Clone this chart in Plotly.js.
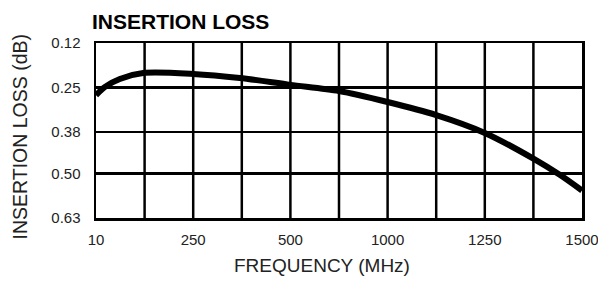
<!DOCTYPE html>
<html>
<head>
<meta charset="utf-8">
<script src="https://cdn.plot.ly/plotly-3.0.1.min.js"></script>
<style>html,body{margin:0;padding:0;background:#fff;}#chart{width:598px;height:281px;}</style>
</head>
<body>
<div id="chart"></div>
<script>
// x positions on the (evenly spaced) grid, 0..10
var gridPos = [0, 0.185, 0.49, 1.0, 2.0, 2.96, 4.0, 5.0, 6.0, 7.0, 8.0, 9.0, 9.55, 10];
// insertion loss (dB)
var lossDb = [0.272, 0.248, 0.225, 0.207, 0.210, 0.222, 0.242, 0.260, 0.292, 0.330, 0.382, 0.457, 0.505, 0.550];
var xTickPos = [0, 2, 4, 6, 8, 10];
var xTickLabels = ['10', '250', '500', '1000', '1250', '1500'];
var yTickVals = [0.12, 0.25, 0.38, 0.50, 0.63];
var yTickLabels = ['0.12', '0.25', '0.38', '0.50', '0.63'];
var vGridPos = [1, 2, 3, 4, 5, 6, 7, 8, 9];

var shapes = vGridPos.map(function (p) {
  return {type: 'line', xref: 'x', yref: 'paper', x0: p, x1: p, y0: 0, y1: 1,
          line: {color: '#000', width: 2.5}, layer: 'below'};
});

var trace = {
  x: gridPos, y: lossDb, type: 'scatter', mode: 'lines',
  line: {color: '#000', width: 6, shape: 'spline', smoothing: 0.8},
  hoverinfo: 'skip', cliponaxis: true
};

var fam = 'Liberation Sans, Arial, sans-serif';

var layout = {
  width: 598, height: 281,
  margin: {l: 96, r: 16, t: 43, b: 63},
  paper_bgcolor: '#fff', plot_bgcolor: '#fff',
  showlegend: false,
  shapes: shapes,
  title: {text: '<b>INSERTION LOSS</b>', x: 92/598, xref: 'container', xanchor: 'left',
          y: 1 - 22/281, yref: 'container', yanchor: 'middle',
          font: {family: fam, size: 21, color: '#000'}},
  annotations: [
    {text: 'FREQUENCY (MHz)', xref: 'paper', yref: 'paper',
     x: (322 - 96) / 486, y: -(265 - 218) / 175, xanchor: 'center', yanchor: 'middle',
     showarrow: false, font: {family: fam, size: 19, color: '#222'}},
    {text: 'INSERTION LOSS (dB)', xref: 'paper', yref: 'paper', textangle: -90,
     x: -(96 - 19.5) / 486, y: 1 - (137 - 43) / 175, xanchor: 'center', yanchor: 'middle',
     showarrow: false, font: {family: fam, size: 19.5, color: '#222'}}
  ],
  xaxis: {
    range: [0, 10], tickvals: xTickPos, ticktext: xTickLabels,
    showgrid: false, zeroline: false,
    showline: true, mirror: true, linecolor: '#000', linewidth: 2.5,
    ticks: 'outside', ticklen: 6, tickcolor: 'rgba(0,0,0,0)',
    ticklabeloverflow: 'allow',
    tickfont: {family: fam, size: 15, color: '#222'},
    fixedrange: true
  },
  yaxis: {
    range: [0.63, 0.12], tickvals: yTickVals, ticktext: yTickLabels,
    showgrid: true, gridcolor: '#000', gridwidth: 2.5, zeroline: false,
    showline: true, mirror: true, linecolor: '#000', linewidth: 2.5,
    ticks: 'outside', ticklen: 10, tickcolor: 'rgba(0,0,0,0)',
    tickfont: {family: fam, size: 15, color: '#222'},
    fixedrange: true
  }
};

Plotly.newPlot('chart', [trace], layout, {staticPlot: true, displayModeBar: false});
</script>
</body>
</html>
